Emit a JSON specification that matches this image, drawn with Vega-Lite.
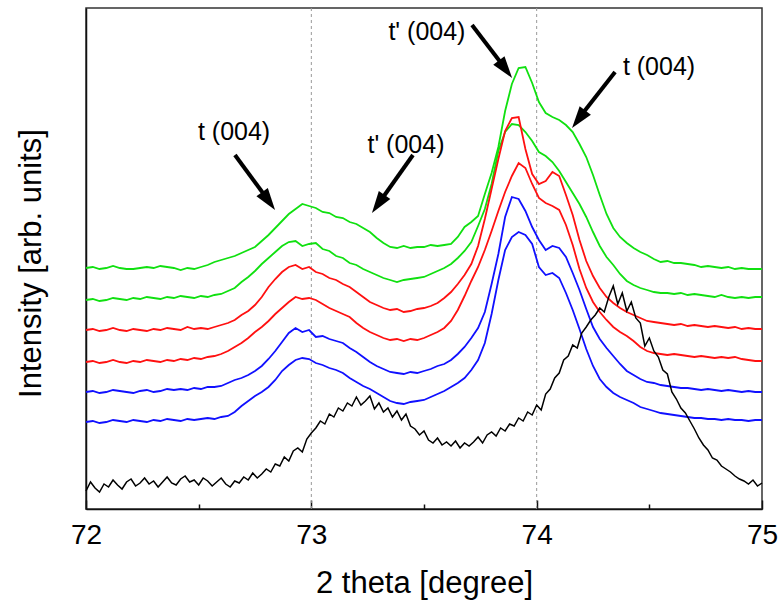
{
  "$schema": "https://vega.github.io/schema/vega-lite/v6.json",
  "width": 676,
  "height": 501,
  "autosize": "none",
  "padding": {"left": 86, "top": 8, "right": 20, "bottom": 94},
  "background": "white",
  "config": {
    "font": "Liberation Sans",
    "view": {"stroke": "#333", "strokeWidth": 1.5},
    "axis": {"domainColor": "#111", "domainWidth": 1.5, "grid": false, "labelFont": "Liberation Sans", "titleFont": "Liberation Sans", "labelColor": "#000", "titleColor": "#000", "titleFontWeight": "normal", "tickColor": "#111", "tickWidth": 1.5},
    "axisY": {"labels": false, "ticks": false, "titleFontSize": 31, "titleX": -46, "titleY": 255, "titleBaseline": "alphabetic", "titleAlign": "center"}
  },
  "datasets": {
    "refs": [{"x": 73}, {"x": 74}],
    "curves": [
      {"x":72.00,"G1":241,"G2":209,"R1":179,"R2":147,"B1":117,"B2":87},
      {"x":72.03,"G1":242,"G2":210,"R1":180,"R2":148,"B1":118,"B2":88},
      {"x":72.06,"G1":240,"G2":208,"R1":178,"R2":146,"B1":116,"B2":86},
      {"x":72.09,"G1":241,"G2":209,"R1":179,"R2":147,"B1":117,"B2":87},
      {"x":72.12,"G1":243,"G2":211,"R1":181,"R2":149,"B1":119,"B2":89},
      {"x":72.15,"G1":241,"G2":210,"R1":179,"R2":147,"B1":118,"B2":88},
      {"x":72.18,"G1":240,"G2":209,"R1":178,"R2":146,"B1":117,"B2":87},
      {"x":72.21,"G1":240,"G2":211,"R1":180,"R2":148,"B1":116,"B2":89},
      {"x":72.24,"G1":241,"G2":210,"R1":179,"R2":147,"B1":118,"B2":88},
      {"x":72.27,"G1":242,"G2":212,"R1":178,"R2":149,"B1":119,"B2":87},
      {"x":72.30,"G1":241,"G2":211,"R1":180,"R2":148,"B1":117,"B2":89},
      {"x":72.33,"G1":243,"G2":210,"R1":179,"R2":147,"B1":118,"B2":88},
      {"x":72.36,"G1":242,"G2":212,"R1":181,"R2":149,"B1":120,"B2":90},
      {"x":72.39,"G1":241,"G2":211,"R1":180,"R2":148,"B1":119,"B2":89},
      {"x":72.42,"G1":239,"G2":213,"R1":179,"R2":150,"B1":120,"B2":88},
      {"x":72.45,"G1":241,"G2":212,"R1":182,"R2":149,"B1":119,"B2":90},
      {"x":72.48,"G1":240,"G2":211,"R1":180,"R2":151,"B1":121,"B2":89},
      {"x":72.51,"G1":242,"G2":213,"R1":181,"R2":150,"B1":120,"B2":90},
      {"x":72.54,"G1":244,"G2":212,"R1":180,"R2":152,"B1":122,"B2":91},
      {"x":72.57,"G1":247,"G2":214,"R1":182,"R2":153,"B1":122,"B2":90},
      {"x":72.60,"G1":249,"G2":215,"R1":184,"R2":155,"B1":123,"B2":92},
      {"x":72.63,"G1":251,"G2":218,"R1":186,"R2":158,"B1":126,"B2":93},
      {"x":72.66,"G1":253,"G2":221,"R1":189,"R2":162,"B1":129,"B2":97},
      {"x":72.69,"G1":256,"G2":227,"R1":194,"R2":166,"B1":131,"B2":103},
      {"x":72.72,"G1":259,"G2":232,"R1":198,"R2":171,"B1":134,"B2":108},
      {"x":72.75,"G1":262,"G2":238,"R1":204,"R2":177,"B1":138,"B2":113},
      {"x":72.78,"G1":268,"G2":245,"R1":212,"R2":182,"B1":143,"B2":117},
      {"x":72.81,"G1":274,"G2":251,"R1":222,"R2":188,"B1":150,"B2":122},
      {"x":72.84,"G1":281,"G2":257,"R1":230,"R2":195,"B1":158,"B2":129},
      {"x":72.87,"G1":288,"G2":263,"R1":237,"R2":201,"B1":167,"B2":138},
      {"x":72.90,"G1":295,"G2":267,"R1":242,"R2":207,"B1":176,"B2":144},
      {"x":72.93,"G1":300,"G2":268,"R1":244,"R2":212,"B1":181,"B2":149},
      {"x":72.96,"G1":305,"G2":263,"R1":240,"R2":210,"B1":177,"B2":151},
      {"x":72.99,"G1":303,"G2":265,"R1":242,"R2":211,"B1":179,"B2":150},
      {"x":73.02,"G1":301,"G2":266,"R1":237,"R2":209,"B1":172,"B2":146},
      {"x":73.05,"G1":297,"G2":260,"R1":235,"R2":205,"B1":173,"B2":144},
      {"x":73.08,"G1":296,"G2":258,"R1":231,"R2":201,"B1":170,"B2":141},
      {"x":73.11,"G1":292,"G2":253,"R1":229,"R2":198,"B1":168,"B2":139},
      {"x":73.14,"G1":291,"G2":251,"R1":225,"R2":195,"B1":166,"B2":136},
      {"x":73.17,"G1":287,"G2":246,"R1":222,"R2":192,"B1":161,"B2":131},
      {"x":73.20,"G1":285,"G2":244,"R1":217,"R2":186,"B1":157,"B2":127},
      {"x":73.23,"G1":281,"G2":240,"R1":212,"R2":181,"B1":152,"B2":123},
      {"x":73.26,"G1":277,"G2":237,"R1":207,"R2":177,"B1":147,"B2":120},
      {"x":73.29,"G1":271,"G2":234,"R1":204,"R2":174,"B1":143,"B2":116},
      {"x":73.32,"G1":266,"G2":231,"R1":201,"R2":171,"B1":140,"B2":112},
      {"x":73.35,"G1":262,"G2":229,"R1":199,"R2":169,"B1":137,"B2":108},
      {"x":73.38,"G1":261,"G2":227,"R1":200,"R2":170,"B1":136,"B2":106},
      {"x":73.41,"G1":263,"G2":229,"R1":197,"R2":168,"B1":135,"B2":105},
      {"x":73.44,"G1":261,"G2":230,"R1":198,"R2":170,"B1":137,"B2":107},
      {"x":73.47,"G1":262,"G2":231,"R1":200,"R2":169,"B1":136,"B2":108},
      {"x":73.50,"G1":262,"G2":232,"R1":201,"R2":171,"B1":138,"B2":109},
      {"x":73.53,"G1":264,"G2":235,"R1":203,"R2":174,"B1":140,"B2":112},
      {"x":73.56,"G1":263,"G2":238,"R1":206,"R2":177,"B1":143,"B2":115},
      {"x":73.59,"G1":264,"G2":241,"R1":211,"R2":181,"B1":145,"B2":118},
      {"x":73.62,"G1":265,"G2":245,"R1":217,"R2":188,"B1":149,"B2":122},
      {"x":73.65,"G1":272,"G2":251,"R1":225,"R2":199,"B1":155,"B2":126},
      {"x":73.68,"G1":282,"G2":258,"R1":234,"R2":213,"B1":162,"B2":131},
      {"x":73.71,"G1":287,"G2":267,"R1":245,"R2":228,"B1":171,"B2":139},
      {"x":73.74,"G1":293,"G2":283,"R1":263,"R2":242,"B1":181,"B2":149},
      {"x":73.77,"G1":315,"G2":300,"R1":290,"R2":259,"B1":197,"B2":166},
      {"x":73.80,"G1":336,"G2":325,"R1":320,"R2":278,"B1":225,"B2":195},
      {"x":73.83,"G1":362,"G2":358,"R1":350,"R2":298,"B1":255,"B2":229},
      {"x":73.86,"G1":398,"G2":377,"R1":378,"R2":317,"B1":292,"B2":259},
      {"x":73.89,"G1":425,"G2":385,"R1":391,"R2":333,"B1":312,"B2":272},
      {"x":73.92,"G1":441,"G2":384,"R1":392,"R2":346,"B1":310,"B2":277},
      {"x":73.95,"G1":442,"G2":377,"R1":360,"R2":341,"B1":298,"B2":274},
      {"x":73.98,"G1":426,"G2":368,"R1":335,"R2":325,"B1":282,"B2":265},
      {"x":74.01,"G1":407,"G2":357,"R1":325,"R2":311,"B1":269,"B2":242},
      {"x":74.04,"G1":396,"G2":353,"R1":328,"R2":306,"B1":259,"B2":234},
      {"x":74.07,"G1":392,"G2":347,"R1":337,"R2":303,"B1":263,"B2":236},
      {"x":74.10,"G1":389,"G2":338,"R1":333,"R2":299,"B1":261,"B2":231},
      {"x":74.13,"G1":384,"G2":327,"R1":314,"R2":284,"B1":252,"B2":216},
      {"x":74.16,"G1":377,"G2":316,"R1":294,"R2":264,"B1":236,"B2":199},
      {"x":74.19,"G1":365,"G2":305,"R1":269,"R2":240,"B1":219,"B2":180},
      {"x":74.22,"G1":352,"G2":292,"R1":248,"R2":221,"B1":200,"B2":160},
      {"x":74.25,"G1":334,"G2":277,"R1":233,"R2":207,"B1":182,"B2":143},
      {"x":74.28,"G1":314,"G2":263,"R1":221,"R2":197,"B1":170,"B2":130},
      {"x":74.31,"G1":295,"G2":252,"R1":212,"R2":189,"B1":161,"B2":122},
      {"x":74.34,"G1":281,"G2":244,"R1":206,"R2":182,"B1":153,"B2":116},
      {"x":74.37,"G1":272,"G2":235,"R1":201,"R2":177,"B1":145,"B2":112},
      {"x":74.40,"G1":266,"G2":228,"R1":197,"R2":173,"B1":138,"B2":109},
      {"x":74.43,"G1":261,"G2":224,"R1":194,"R2":168,"B1":134,"B2":106},
      {"x":74.46,"G1":257,"G2":221,"R1":191,"R2":162,"B1":130,"B2":102},
      {"x":74.49,"G1":254,"G2":219,"R1":188,"R2":158,"B1":127,"B2":100},
      {"x":74.52,"G1":250,"G2":217,"R1":187,"R2":156,"B1":126,"B2":98},
      {"x":74.55,"G1":247,"G2":216,"R1":186,"R2":155,"B1":124,"B2":96},
      {"x":74.58,"G1":248,"G2":216,"R1":185,"R2":154,"B1":123,"B2":95},
      {"x":74.61,"G1":246,"G2":215,"R1":184,"R2":155,"B1":122,"B2":94},
      {"x":74.64,"G1":246,"G2":216,"R1":185,"R2":154,"B1":121,"B2":93},
      {"x":74.67,"G1":245,"G2":214,"R1":183,"R2":153,"B1":121,"B2":92},
      {"x":74.70,"G1":244,"G2":215,"R1":184,"R2":152,"B1":120,"B2":91},
      {"x":74.73,"G1":242,"G2":214,"R1":183,"R2":153,"B1":119,"B2":91},
      {"x":74.76,"G1":243,"G2":213,"R1":182,"R2":152,"B1":120,"B2":90},
      {"x":74.79,"G1":242,"G2":212,"R1":183,"R2":151,"B1":119,"B2":90},
      {"x":74.82,"G1":241,"G2":214,"R1":182,"R2":152,"B1":118,"B2":89},
      {"x":74.85,"G1":242,"G2":212,"R1":181,"R2":151,"B1":119,"B2":90},
      {"x":74.88,"G1":240,"G2":211,"R1":182,"R2":152,"B1":118,"B2":89},
      {"x":74.91,"G1":241,"G2":212,"R1":180,"R2":150,"B1":117,"B2":89},
      {"x":74.94,"G1":240,"G2":211,"R1":181,"R2":149,"B1":118,"B2":88},
      {"x":74.97,"G1":240,"G2":212,"R1":180,"R2":148,"B1":117,"B2":89},
      {"x":75.00,"G1":240,"G2":212,"R1":180,"R2":148,"B1":117,"B2":89}
    ],
    "black": [
      {"x":72.00,"I":18},{"x":72.02,"I":27},{"x":72.04,"I":21},{"x":72.06,"I":17},{"x":72.08,"I":25},
      {"x":72.10,"I":22},{"x":72.12,"I":29},{"x":72.14,"I":24},{"x":72.16,"I":20},{"x":72.18,"I":27},
      {"x":72.20,"I":30},{"x":72.22,"I":23},{"x":72.24,"I":26},{"x":72.26,"I":31},{"x":72.28,"I":25},
      {"x":72.30,"I":28},{"x":72.32,"I":22},{"x":72.34,"I":27},{"x":72.36,"I":32},{"x":72.38,"I":26},
      {"x":72.40,"I":24},{"x":72.42,"I":30},{"x":72.44,"I":33},{"x":72.46,"I":27},{"x":72.48,"I":29},
      {"x":72.50,"I":24},{"x":72.52,"I":31},{"x":72.54,"I":28},{"x":72.56,"I":23},{"x":72.58,"I":27},
      {"x":72.60,"I":31},{"x":72.62,"I":25},{"x":72.64,"I":22},{"x":72.66,"I":28},{"x":72.68,"I":26},
      {"x":72.70,"I":32},{"x":72.72,"I":29},{"x":72.74,"I":36},{"x":72.76,"I":31},{"x":72.78,"I":35},
      {"x":72.80,"I":40},{"x":72.82,"I":37},{"x":72.84,"I":45},{"x":72.86,"I":43},{"x":72.88,"I":52},
      {"x":72.90,"I":48},{"x":72.92,"I":58},{"x":72.94,"I":61},{"x":72.96,"I":57},{"x":72.98,"I":70},
      {"x":73.00,"I":76},{"x":73.02,"I":81},{"x":73.04,"I":88},{"x":73.06,"I":85},{"x":73.08,"I":95},
      {"x":73.10,"I":92},{"x":73.12,"I":101},{"x":73.14,"I":98},{"x":73.16,"I":106},{"x":73.18,"I":103},
      {"x":73.20,"I":112},{"x":73.22,"I":104},{"x":73.24,"I":108},{"x":73.26,"I":113},{"x":73.28,"I":100},
      {"x":73.30,"I":106},{"x":73.32,"I":97},{"x":73.34,"I":101},{"x":73.36,"I":92},{"x":73.38,"I":98},
      {"x":73.40,"I":89},{"x":73.42,"I":95},{"x":73.44,"I":83},{"x":73.46,"I":80},{"x":73.48,"I":74},
      {"x":73.50,"I":78},{"x":73.52,"I":69},{"x":73.54,"I":66},{"x":73.56,"I":71},{"x":73.58,"I":64},
      {"x":73.60,"I":67},{"x":73.62,"I":63},{"x":73.64,"I":68},{"x":73.66,"I":61},{"x":73.68,"I":66},
      {"x":73.70,"I":63},{"x":73.72,"I":67},{"x":73.74,"I":72},{"x":73.76,"I":66},{"x":73.78,"I":74},
      {"x":73.80,"I":77},{"x":73.82,"I":73},{"x":73.84,"I":81},{"x":73.86,"I":78},{"x":73.88,"I":85},
      {"x":73.90,"I":83},{"x":73.92,"I":91},{"x":73.94,"I":88},{"x":73.96,"I":97},{"x":73.98,"I":94},
      {"x":74.00,"I":104},{"x":74.02,"I":99},{"x":74.04,"I":115},{"x":74.06,"I":120},{"x":74.08,"I":131},
      {"x":74.10,"I":136},{"x":74.12,"I":149},{"x":74.14,"I":153},{"x":74.16,"I":164},{"x":74.18,"I":161},
      {"x":74.20,"I":176},{"x":74.22,"I":182},{"x":74.24,"I":189},{"x":74.26,"I":194},{"x":74.28,"I":201},
      {"x":74.30,"I":197},{"x":74.32,"I":212},{"x":74.34,"I":223},{"x":74.36,"I":205},{"x":74.38,"I":216},
      {"x":74.40,"I":198},{"x":74.42,"I":207},{"x":74.44,"I":191},{"x":74.46,"I":186},{"x":74.48,"I":163},
      {"x":74.50,"I":171},{"x":74.52,"I":158},{"x":74.54,"I":152},{"x":74.56,"I":139},{"x":74.58,"I":135},
      {"x":74.60,"I":117},{"x":74.62,"I":110},{"x":74.64,"I":101},{"x":74.66,"I":96},{"x":74.68,"I":88},
      {"x":74.70,"I":80},{"x":74.72,"I":71},{"x":74.74,"I":64},{"x":74.76,"I":59},{"x":74.78,"I":51},
      {"x":74.80,"I":49},{"x":74.82,"I":43},{"x":74.84,"I":40},{"x":74.86,"I":37},{"x":74.88,"I":33},
      {"x":74.90,"I":30},{"x":74.92,"I":28},{"x":74.94,"I":25},{"x":74.96,"I":29},{"x":74.98,"I":23},
      {"x":75.00,"I":26}
    ],
    "arrows": [
      {"id":"a1","x":72.661,"y":354,"bx":72.808,"by":309,"tx":72.839,"ty":299},
      {"id":"a2","x":73.451,"y":354,"bx":73.300,"by":306,"tx":73.269,"ty":296},
      {"id":"a3","x":73.713,"y":484,"bx":73.859,"by":441,"tx":73.891,"ty":431},
      {"id":"a4","x":74.348,"y":437,"bx":74.188,"by":391,"tx":74.157,"ty":381}
    ],
    "labels": [
      {"text":"t (004)","x":72.657,"y":377},
      {"text":"t' (004)","x":73.420,"y":364},
      {"text":"t' (004)","x":73.513,"y":477},
      {"text":"t (004)","x":74.543,"y":442}
    ]
  },
  "resolve": {"axis": {"x": "independent"}},
  "layer": [
    {
      "data": {"name": "refs"},
      "mark": {"type": "rule", "color": "#999", "strokeWidth": 1, "strokeDash": [3, 3]},
      "encoding": {
        "x": {"field": "x", "type": "quantitative", "scale": {"domain": [72, 75], "nice": false, "zero": false},
          "axis": {"orient": "bottom", "values": [72, 73, 74, 75], "format": "d", "tickSize": -9, "labelFontSize": 28, "labelPadding": 21, "labelFlush": false, "title": "2 theta [degree]", "titleFontSize": 31, "titleX": 338, "titleY": 83, "titleBaseline": "alphabetic", "titleAlign": "center"}}
      }
    },
    {
      "data": {"name": "curves"},
      "transform": [{"fold": ["G1", "G2", "R1", "R2", "B1", "B2"], "as": ["series", "I"]}],
      "mark": {"type": "line", "strokeWidth": 1.8},
      "encoding": {
        "x": {"field": "x", "type": "quantitative", "scale": {"domain": [72, 75], "nice": false, "zero": false},
          "axis": {"orient": "bottom", "values": [72.5, 73.5, 74.5], "tickSize": -5, "labels": false, "domain": false, "title": null}},
        "y": {"field": "I", "type": "quantitative", "scale": {"domain": [0, 501], "nice": false, "zero": false}, "title": "Intensity [arb. units]"},
        "detail": {"field": "series", "type": "nominal"},
        "color": {"field": "series", "type": "nominal", "scale": {"domain": ["G1", "G2", "R1", "R2", "B1", "B2"], "range": ["#10e010", "#10e010", "#ff1010", "#ff1010", "#1010ff", "#1010ff"]}, "legend": null}
      }
    },
    {
      "data": {"name": "black"},
      "mark": {"type": "line", "strokeWidth": 1.5, "color": "#000"},
      "encoding": {
        "x": {"field": "x", "type": "quantitative", "scale": {"domain": [72, 75], "nice": false, "zero": false}, "axis": null},
        "y": {"field": "I", "type": "quantitative", "scale": {"domain": [0, 501], "nice": false, "zero": false}, "title": "Intensity [arb. units]"}
      }
    },
    {
      "data": {"name": "arrows"},
      "mark": {"type": "rule", "color": "#000", "strokeWidth": 4, "strokeCap": "butt"},
      "encoding": {
        "x": {"field": "x", "type": "quantitative", "scale": {"domain": [72, 75], "nice": false, "zero": false}, "axis": null},
        "y": {"field": "y", "type": "quantitative", "scale": {"domain": [0, 501], "nice": false, "zero": false}, "title": "Intensity [arb. units]"},
        "x2": {"field": "bx"},
        "y2": {"field": "by"}
      }
    },
    {
      "data": {"name": "arrows"},
      "mark": {"type": "point", "shape": "M0,0L-0.32,1L0.32,1Z", "size": 1936, "filled": true, "color": "#000", "opacity": 1, "strokeWidth": 0},
      "encoding": {
        "x": {"field": "tx", "type": "quantitative", "scale": {"domain": [72, 75], "nice": false, "zero": false}, "axis": null},
        "y": {"field": "ty", "type": "quantitative", "scale": {"domain": [0, 501], "nice": false, "zero": false}, "title": "Intensity [arb. units]"},
        "angle": {"condition": [
          {"test": "datum.id === 'a1'", "value": 144},
          {"test": "datum.id === 'a2'", "value": 215},
          {"test": "datum.id === 'a3'", "value": 143}
        ], "value": 217}
      }
    },
    {
      "data": {"name": "labels"},
      "mark": {"type": "text", "fontSize": 25, "font": "Liberation Sans", "color": "#000", "align": "center", "baseline": "middle"},
      "encoding": {
        "x": {"field": "x", "type": "quantitative", "scale": {"domain": [72, 75], "nice": false, "zero": false}, "axis": null},
        "y": {"field": "y", "type": "quantitative", "scale": {"domain": [0, 501], "nice": false, "zero": false}, "title": "Intensity [arb. units]"},
        "text": {"field": "text"}
      }
    }
  ]
}
